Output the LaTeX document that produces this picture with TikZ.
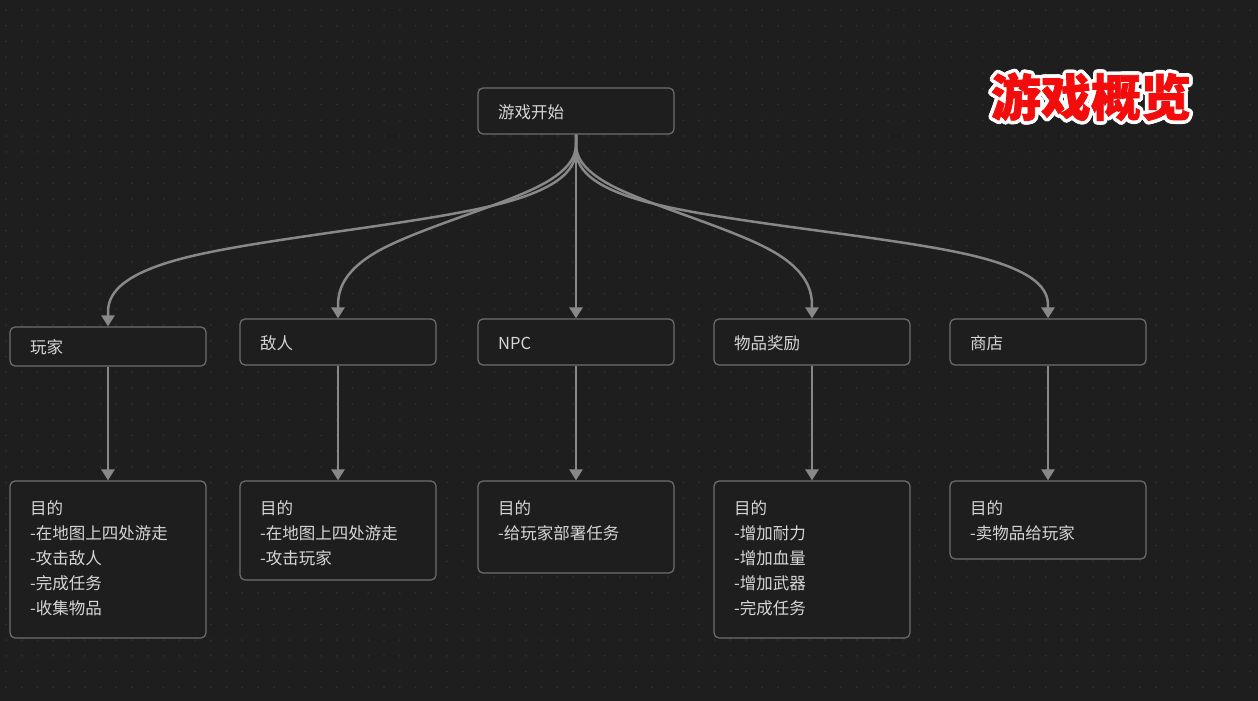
\documentclass[tikz,border=0pt]{standalone}
\usepackage{fontspec}
\setmainfont{Noto Sans CJK SC}
\newfontfamily\titlefont{Noto Sans CJK SC}[BoldFeatures={FakeBold=1.5}]
\usetikzlibrary{arrows.meta,calc}
\definecolor{bg}{HTML}{1E1E1E}
\definecolor{dotc}{HTML}{313131}
\definecolor{boxline}{HTML}{6E6E6E}
\definecolor{edgec}{HTML}{888888}
\definecolor{txt}{HTML}{D6D6D6}
\definecolor{titlered}{HTML}{F20C0C}
\tikzset{
  box/.style={draw=boxline, line width=1.2pt, fill=bg, rounded corners=5pt, minimum width=196pt, inner sep=0pt},
  lbl/.style={anchor=base west, inner sep=0pt, text=txt, font=\fontsize{16.5pt}{25pt}\selectfont, align=left},
  edge/.style={draw=edgec, line width=2.5pt, -{Triangle[length=11pt,width=13pt]}},
  ttl/.style={inner sep=0pt, font=\titlefont\fontsize{50pt}{54pt}\selectfont\bfseries, anchor=base},
}
\begin{document}
\begin{tikzpicture}[x=1pt,y=-1pt]
\fill[bg] (0,0) rectangle (1258,701);
\useasboundingbox (0,0) rectangle (1258,701);
\foreach \i in {0,...,79}{
  \foreach \j in {0,...,43}{
    \fill[dotc] (6+\i*15.75, 10+\j*15.75) circle (1pt);
  }
}
% boxes
\node[box, minimum height=46pt] (start) at (576,111) {};
\node[box, minimum height=39pt] (player) at (108,346.5) {};
\node[box, minimum height=46pt] (enemy) at (338,342) {};
\node[box, minimum height=46pt] (npc) at (576,342) {};
\node[box, minimum height=46pt] (item) at (812,342) {};
\node[box, minimum height=46pt] (shop) at (1048,342) {};
\node[box, minimum height=157pt] (playerd) at (108,559.5) {};
\node[box, minimum height=99pt] (enemyd) at (338,530.5) {};
\node[box, minimum height=92pt] (npcd) at (576,527) {};
\node[box, minimum height=157pt] (itemd) at (812,559.5) {};
\node[box, minimum height=78pt] (shopd) at (1048,520) {};
% labels (base anchor = baseline of last line)
\node[lbl] (tstart) at (498,118) {游戏开始};
\node[lbl] (tplayer) at (30,353) {玩家};
\node[lbl] (tenemy) at (260,349) {敌人};
\node[lbl] (tnpc) at (498,349) {NPC};
\node[lbl] (titem) at (734,349) {物品奖励};
\node[lbl] (tshop) at (970,349) {商店};
\node[lbl] (tplayerd) at (30,614) {目的\\-在地图上四处游走\\-攻击敌人\\-完成任务\\-收集物品};
\node[lbl] (tenemyd) at (260,564) {目的\\-在地图上四处游走\\-攻击玩家};
\node[lbl] (tnpcd) at (498,539) {目的\\-给玩家部署任务};
\node[lbl] (titemd) at (734,614) {目的\\-增加耐力\\-增加血量\\-增加武器\\-完成任务};
\node[lbl] (tshopd) at (970,539) {目的\\-卖物品给玩家};
% curved edges
\draw[edge] (start.south) -- (576,146.7)
  .. controls (576,159.3) and (576,184.7) .. (498,204.3)
  .. controls (420,224) and (264,238) .. (186,257.5)
  .. controls (108,277) and (108,302) .. (108,314.5) -- (player.north);
\draw[edge] (start.south) -- (576,142.5)
  .. controls (576,151) and (576,168) .. (536.3,187.5)
  .. controls (496.7,207) and (417.3,229) .. (377.7,251.3)
  .. controls (338,273.7) and (338,296.3) .. (338,307.7) -- (enemy.north);
\draw[edge] (start.south) -- (npc.north);
\draw[edge] (start.south) -- (576,142.5)
  .. controls (576,151) and (576,168) .. (615.3,187.5)
  .. controls (654.7,207) and (733.3,229) .. (772.7,251.3)
  .. controls (812,273.7) and (812,296.3) .. (812,307.7) -- (item.north);
\draw[edge] (start.south) -- (576,146.7)
  .. controls (576,159.3) and (576,184.7) .. (654.7,204)
  .. controls (733.3,223.3) and (890.7,236.7) .. (969.3,254.8)
  .. controls (1048,273) and (1048,296) .. (1048,307.5) -- (shop.north);
% vertical edges
\draw[edge] (player.south) -- (playerd.north);
\draw[edge] (enemy.south) -- (enemyd.north);
\draw[edge] (npc.south) -- (npcd.north);
\draw[edge] (item.south) -- (itemd.north);
\draw[edge] (shop.south) -- (shopd.north);
% title with white outline
\foreach \a in {0,22.5,...,337.5}{
  \node[ttl, text=white] at ($(1091,116)+(\a:3.6)$) {游戏概览};
}
\node[ttl, text=titlered] (title) at (1091,116) {游戏概览};
\end{tikzpicture}
\end{document}
